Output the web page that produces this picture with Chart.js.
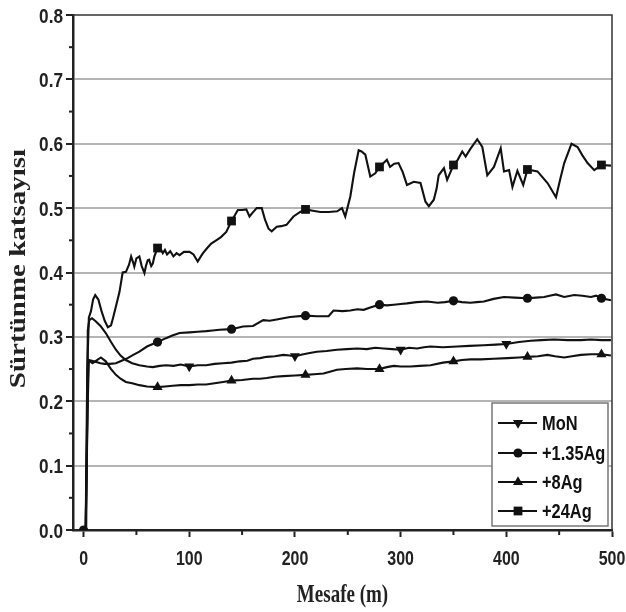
<!DOCTYPE html>
<html>
<head>
<meta charset="utf-8">
<script src="https://cdn.jsdelivr.net/npm/chart.js@4.4.1/dist/chart.umd.min.js"></script>
<style>
  html, body { margin: 0; padding: 0; background: #fff; }
  #wrap { width: 626px; height: 612px; }
</style>
</head>
<body>
<div id="wrap"><canvas id="chart" width="626" height="612"></canvas></div>
<script>
// axis ticks
const xTicks = [0, 100, 200, 300, 400, 500];
const yTicks = [0, 0.1, 0.2, 0.3, 0.4, 0.5, 0.6, 0.7, 0.8];
const xMinor = [50, 150, 250, 350, 450];
const yMinor = [0.05, 0.15, 0.25, 0.35, 0.45, 0.55, 0.65, 0.75];

const seriesNames = ['MoN', '+1.35Ag', '+8Ag', '+24Ag'];
const xTitle = 'Mesafe (m)';
const yTitle = 'Sürtünme katsayısı';

// MoN
const monDist = [0, 2.5, 4, 5.4, 8, 11.7, 16, 21, 26, 30.6, 35, 40, 46, 52.8, 60, 65.5, 72, 78, 85, 92, 100, 108, 116, 124, 132, 140, 147.7, 155, 160.3, 167, 173.3, 181, 189, 195, 200, 208, 214, 220.8, 230, 239.7, 249, 258.7, 268, 276, 284, 292, 300, 308, 315.6, 322, 328.3, 340, 353.6, 365, 378.8, 390, 400, 412, 423, 433, 445, 458, 470.6, 480, 490, 499];
const monCoef = [0, 0.005, 0.31, 0.326, 0.329, 0.324, 0.317, 0.306, 0.292, 0.28, 0.271, 0.264, 0.259, 0.256, 0.254, 0.253, 0.255, 0.256, 0.255, 0.257, 0.254, 0.256, 0.256, 0.258, 0.259, 0.26, 0.262, 0.263, 0.266, 0.267, 0.269, 0.27, 0.272, 0.271, 0.27, 0.273, 0.275, 0.277, 0.278, 0.28, 0.281, 0.282, 0.281, 0.283, 0.282, 0.281, 0.28, 0.283, 0.282, 0.284, 0.285, 0.284, 0.285, 0.286, 0.287, 0.288, 0.289, 0.292, 0.294, 0.295, 0.296, 0.295, 0.295, 0.296, 0.295, 0.295];
const monMarks = [100, 200, 300, 400];

// +1.35Ag
const ag135Dist = [0, 2, 4, 5, 8, 12, 16, 20, 25, 30.6, 36, 41.7, 47, 52.8, 60, 70, 78, 84, 90.8, 100.3, 108, 116, 122, 128.7, 140, 150.8, 160.3, 170, 176, 182.8, 189, 195.4, 210, 220.8, 231.8, 236.5, 245, 252.4, 259, 265, 272, 280, 287, 293.5, 300, 306, 315, 325, 335, 342, 350, 358, 366, 372, 378.8, 388, 397.8, 408, 420, 428, 435.8, 441, 447, 454.8, 464.3, 472, 480, 485, 490, 499];
const ag135Coef = [0, 0.003, 0.2, 0.264, 0.263, 0.261, 0.259, 0.258, 0.258, 0.259, 0.263, 0.267, 0.272, 0.277, 0.285, 0.292, 0.298, 0.302, 0.306, 0.307, 0.308, 0.309, 0.31, 0.311, 0.312, 0.316, 0.317, 0.326, 0.325, 0.327, 0.329, 0.331, 0.333, 0.332, 0.332, 0.341, 0.34, 0.341, 0.343, 0.342, 0.346, 0.35, 0.349, 0.35, 0.351, 0.352, 0.354, 0.355, 0.353, 0.354, 0.356, 0.354, 0.353, 0.354, 0.355, 0.359, 0.362, 0.361, 0.36, 0.361, 0.362, 0.364, 0.366, 0.362, 0.365, 0.364, 0.362, 0.364, 0.36, 0.357];
const ag135Marks = [0, 70, 140, 210, 280, 350, 420, 490];

// +8Ag
const ag8Dist = [0, 2, 3.8, 4.5, 8.5, 12, 16.4, 21, 26, 30.6, 35, 40, 46, 52.8, 60, 70, 77, 84.4, 92, 100.3, 108, 116, 124, 132, 140, 150, 160.3, 167, 173.3, 181, 189, 200, 210, 218, 227, 233, 239.7, 248, 258.7, 268, 280, 287, 293.5, 300, 309.3, 318, 328.3, 340, 350, 358, 366, 375.7, 388, 401, 412, 420, 430, 438.9, 446, 454.8, 462, 470.6, 480, 490, 499];
const ag8Coef = [0, 0.004, 0.2, 0.264, 0.259, 0.263, 0.268, 0.262, 0.25, 0.241, 0.235, 0.23, 0.228, 0.225, 0.223, 0.222, 0.223, 0.224, 0.225, 0.225, 0.226, 0.226, 0.228, 0.23, 0.232, 0.233, 0.235, 0.235, 0.236, 0.238, 0.239, 0.24, 0.241, 0.242, 0.243, 0.246, 0.249, 0.25, 0.251, 0.25, 0.25, 0.253, 0.255, 0.254, 0.254, 0.255, 0.256, 0.26, 0.262, 0.264, 0.265, 0.265, 0.266, 0.267, 0.268, 0.269, 0.27, 0.272, 0.27, 0.268, 0.27, 0.272, 0.273, 0.273, 0.271];
const ag8Marks = [70, 140, 210, 280, 350, 420, 490];

// +24Ag
const ag24Dist = [0, 2, 3.5, 5, 7, 9, 11, 14, 17, 20, 23, 26, 28, 30.6, 34, 37, 40.1, 43, 45, 47, 48, 50, 52.8, 55, 57.6, 59, 60.7, 62, 64, 65.5, 67, 70, 72, 75, 77, 79, 82, 85, 88, 90.8, 95, 100.3, 104, 108, 111, 113, 117, 120.8, 125.5, 130, 135, 140, 146, 150, 154, 157, 160, 163.8, 168.6, 171.7, 175, 178, 182.8, 187, 192, 198.6, 205, 210, 217, 224, 232, 240, 244.5, 247.6, 252.4, 256, 260.3, 263, 266.6, 271.3, 276, 280, 287, 290, 294, 298, 302, 306, 312.4, 318.8, 323.5, 326.7, 331.4, 334, 336, 341, 344, 350, 354, 358.3, 361.5, 366, 372.5, 377.3, 382, 388.3, 394.7, 397.8, 402.6, 405.8, 410.5, 416, 420, 429.5, 439, 447, 451, 454.8, 461.7, 467.4, 472, 476.9, 483.2, 490, 499];
const ag24Coef = [0, 0.004, 0.25, 0.33, 0.34, 0.358, 0.365, 0.358, 0.34, 0.325, 0.315, 0.318, 0.33, 0.347, 0.37, 0.4, 0.401, 0.412, 0.425, 0.415, 0.409, 0.422, 0.425, 0.41, 0.399, 0.41, 0.419, 0.42, 0.41, 0.414, 0.425, 0.438, 0.44, 0.43, 0.435, 0.428, 0.433, 0.425, 0.43, 0.427, 0.432, 0.432, 0.428, 0.417, 0.425, 0.43, 0.438, 0.445, 0.45, 0.455, 0.463, 0.48, 0.497, 0.497, 0.498, 0.487, 0.493, 0.5, 0.5, 0.482, 0.468, 0.464, 0.471, 0.472, 0.474, 0.487, 0.494, 0.498, 0.496, 0.494, 0.494, 0.495, 0.5, 0.487, 0.518, 0.555, 0.59, 0.588, 0.583, 0.549, 0.554, 0.564, 0.575, 0.564, 0.569, 0.57, 0.556, 0.536, 0.541, 0.539, 0.51, 0.503, 0.513, 0.53, 0.551, 0.562, 0.544, 0.567, 0.575, 0.588, 0.58, 0.592, 0.607, 0.595, 0.551, 0.564, 0.593, 0.557, 0.559, 0.533, 0.558, 0.536, 0.56, 0.557, 0.539, 0.517, 0.545, 0.57, 0.6, 0.595, 0.582, 0.57, 0.559, 0.567, 0.566];
const ag24Marks = [70, 140, 210, 280, 350, 420, 490];

const pts = (xs, ys) => xs.map((x, i) => ({ x: x, y: ys[i] }));

const styles = [
  { pointStyle: 'triangle', rotation: 180, radius: 5.8 },
  { pointStyle: 'circle', rotation: 0, radius: 4.6 },
  { pointStyle: 'triangle', rotation: 0, radius: 5.8 },
  { pointStyle: 'rect', rotation: 0, radius: 6.2 }
];

const makeSet = (i, xs, ys, marks) => ({
  label: seriesNames[i],
  data: pts(xs, ys),
  borderColor: '#111',
  backgroundColor: '#111',
  borderWidth: 2.1,
  tension: 0,
  pointStyle: styles[i].pointStyle,
  rotation: styles[i].rotation,
  pointRadius: ctx => marks.includes(ctx.raw.x) ? styles[i].radius : 0,
  pointBorderWidth: 0
});

const sans = '"Liberation Sans", Arial, sans-serif';
const serif = '"Liberation Serif", "Times New Roman", serif';

// text squeezed sideways, the original figure is narrow
const narrowText = (ctx, text, x, y, sx, align) => {
  ctx.save();
  ctx.translate(x, y);
  ctx.scale(sx, 1);
  ctx.textAlign = align;
  ctx.fillText(text, 0, 0);
  ctx.restore();
};

// frame, minor ticks, labels and the legend box
const extras = {
  id: 'extras',
  afterDraw(chart) {
    const { ctx, chartArea: a, scales } = chart;
    ctx.save();
    ctx.strokeStyle = '#333';
    ctx.lineWidth = 1.5;
    ctx.beginPath();
    ctx.moveTo(a.left, a.top);
    ctx.lineTo(a.right, a.top);
    ctx.lineTo(a.right, a.bottom);
    ctx.stroke();

    ctx.strokeStyle = '#222';
    ctx.lineWidth = 2;
    yMinor.forEach(v => {
      const y = scales.y.getPixelForValue(v);
      ctx.beginPath(); ctx.moveTo(a.left - 4, y); ctx.lineTo(a.left, y); ctx.stroke();
    });
    xMinor.forEach(v => {
      const x = scales.x.getPixelForValue(v);
      ctx.beginPath(); ctx.moveTo(x, a.bottom); ctx.lineTo(x, a.bottom + 5); ctx.stroke();
    });

    // tick labels
    ctx.fillStyle = '#222';
    ctx.textBaseline = 'alphabetic';
    ctx.font = 'bold 21px ' + sans;
    yTicks.forEach(v => {
      narrowText(ctx, v.toFixed(1), a.left - 10, scales.y.getPixelForValue(v) + 7.5, 0.82, 'right');
    });
    xTicks.forEach(v => {
      narrowText(ctx, String(v), scales.x.getPixelForValue(v), a.bottom + 35, 0.76, 'center');
    });

    // axis titles
    ctx.font = 'bold 25px ' + serif;
    narrowText(ctx, xTitle, (a.left + a.right) / 2, a.bottom + 72, 0.76, 'center');
    ctx.save();
    ctx.translate(25, (a.top + a.bottom) / 2 - 4);
    ctx.rotate(-Math.PI / 2);
    ctx.scale(1, 0.8);
    ctx.font = 'bold 29px ' + serif;
    ctx.textAlign = 'center';
    ctx.fillText(yTitle, 0, 0);
    ctx.restore();

    // legend
    const bx = a.right - 120, by = a.bottom - 127, bw = 116, bh = 123;
    ctx.fillStyle = '#fff';
    ctx.fillRect(bx, by, bw, bh);
    ctx.strokeStyle = '#777';
    ctx.lineWidth = 1.5;
    ctx.strokeRect(bx, by, bw, bh);
    const rows = [20, 50, 79, 108];
    ctx.font = 'bold 20px ' + sans;
    seriesNames.forEach((name, i) => {
      const y = by + rows[i];
      ctx.strokeStyle = '#111';
      ctx.fillStyle = '#111';
      ctx.lineWidth = 1.8;
      ctx.beginPath(); ctx.moveTo(bx + 6, y); ctx.lineTo(bx + 45, y); ctx.stroke();
      Chart.helpers.drawPoint(ctx, { pointStyle: styles[i].pointStyle, rotation: styles[i].rotation, radius: styles[i].radius, borderWidth: 0 }, bx + 26, y);
      narrowText(ctx, name, bx + 50, y + 7, 0.82, 'left');
    });
    ctx.restore();
  }
};

new Chart(document.getElementById('chart'), {
  type: 'line',
  data: {
    datasets: [
      makeSet(0, monDist, monCoef, monMarks),
      makeSet(1, ag135Dist, ag135Coef, ag135Marks),
      makeSet(2, ag8Dist, ag8Coef, ag8Marks),
      makeSet(3, ag24Dist, ag24Coef, ag24Marks)
    ]
  },
  options: {
    responsive: false,
    animation: false,
    layout: { padding: { top: 15, right: 14, left: 0, bottom: 0 } },
    plugins: {
      legend: { display: false },
      tooltip: { enabled: false }
    },
    scales: {
      x: {
        type: 'linear',
        min: -10,
        max: 500,
        afterBuildTicks: s => { s.ticks = xTicks.map(v => ({ value: v })); },
        afterFit: s => { s.height = 82; },
        grid: { drawOnChartArea: false, tickLength: 7, tickColor: '#222', tickWidth: 2 },
        border: { color: '#222', width: 2.5 },
        ticks: { display: false }
      },
      y: {
        min: 0,
        max: 0.8,
        afterBuildTicks: s => { s.ticks = yTicks.map(v => ({ value: v })); },
        afterFit: s => { s.width = 73; },
        grid: {
          color: c => (c.tick.value > 0.001 && c.tick.value < 0.79) ? '#b4b4b4' : 'rgba(0,0,0,0)',
          lineWidth: 2,
          tickLength: 7,
          tickColor: '#222',
          tickWidth: 2
        },
        border: { color: '#222', width: 2.5 },
        ticks: { display: false }
      }
    }
  },
  plugins: [extras]
});
</script>
</body>
</html>
